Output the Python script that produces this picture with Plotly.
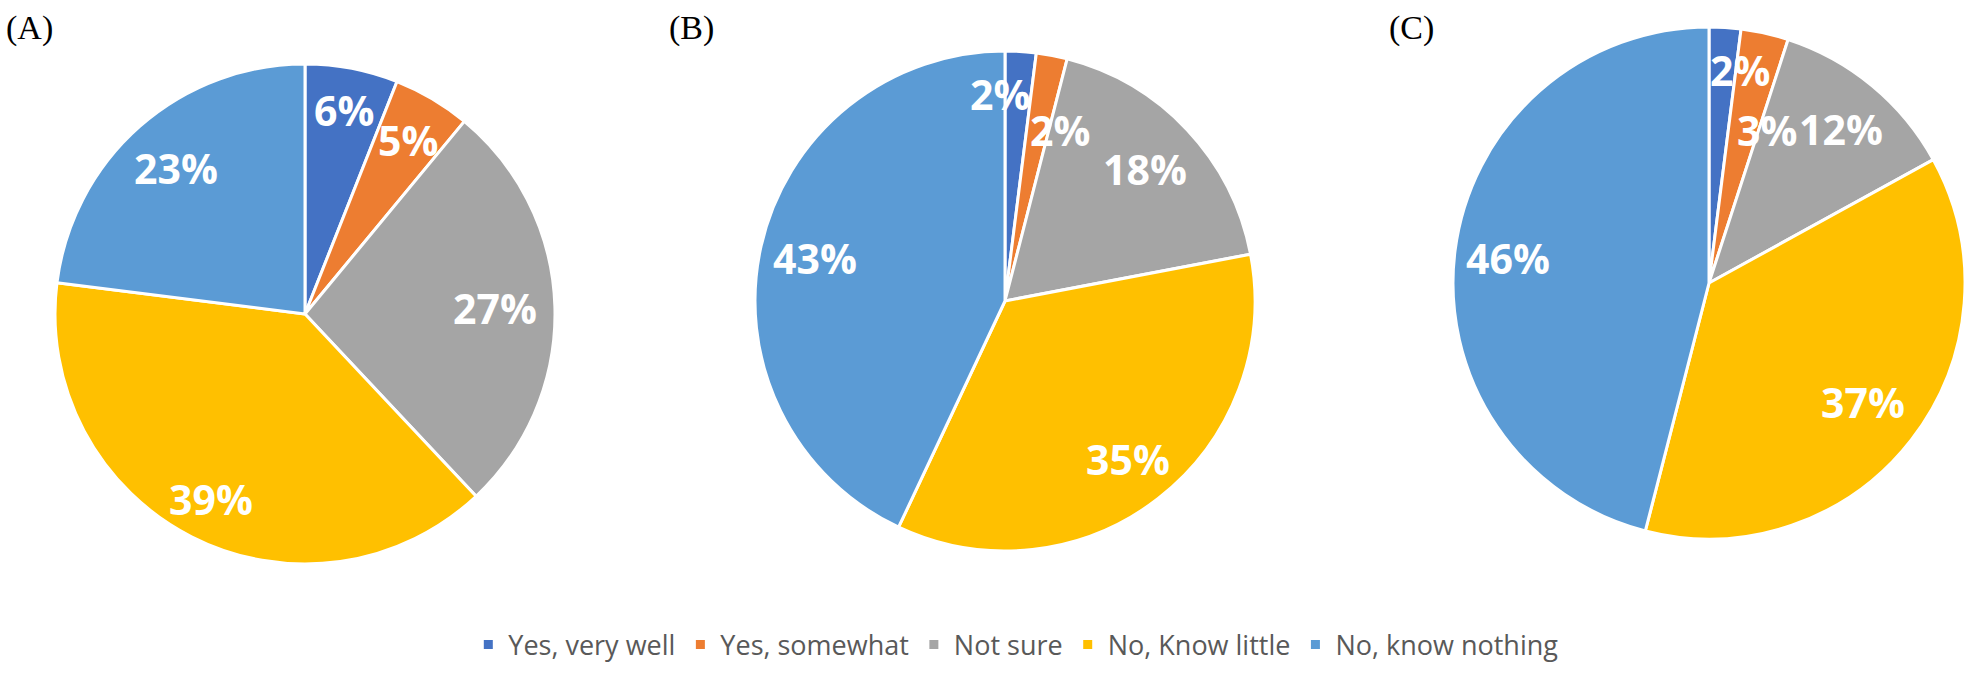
import math
import plotly.graph_objects as go

categories = ["Yes, very well", "Yes, somewhat", "Not sure", "No, Know little", "No, know nothing"]
values_a = [6, 5, 27, 39, 23]
values_b = [2, 2, 18, 35, 43]
values_c = [2, 3, 12, 37, 46]
panel_labels = ["(A)", "(B)", "(C)"]
colors = ["#4472C4", "#ED7D31", "#A5A5A5", "#FFC000", "#5B9BD5"]

W, H = 1984, 682

# layout: pie centres / radii in pixels
pies = [
    dict(vals=values_a, cx=305, cy=314, r=250,
         lab_r=[0.83, 0.81, 0.76, 0.83, 0.78], lab_da=[0, 0, 0, 0, 0]),
    dict(vals=values_b, cx=1005, cy=301, r=250,
         lab_r=[0.83, 0.72, 0.77, 0.80, 0.78], lab_da=[-5, 7, 0, 0, 0]),
    dict(vals=values_c, cx=1709, cy=283, r=256,
         lab_r=[0.84, 0.64, 0.79, 0.76, 0.79], lab_da=[4.7, 8, 1, 0, 0]),
]

fig = go.Figure()
for i, p in enumerate(pies):
    cx, cy, r = p["cx"], p["cy"], p["r"]
    fig.add_trace(go.Pie(
        labels=categories,
        values=p["vals"],
        sort=False,
        direction="clockwise",
        rotation=0,
        marker=dict(colors=colors, line=dict(color="white", width=3)),
        textinfo="none",
        hoverinfo="label+percent",
        domain=dict(x=[(cx - r) / W, (cx + r) / W], y=[1 - (cy + r) / H, 1 - (cy - r) / H]),
        showlegend=(i == 0),
    ))
    # data labels placed along each slice's mid-angle
    total = sum(p["vals"])
    cum = 0
    for v, fr, da in zip(p["vals"], p["lab_r"], p["lab_da"]):
        mid = (cum + v / 2) / total * 360 + da
        cum += v
        th = math.radians(mid)
        d = fr * r
        fig.add_annotation(
            text=f"{v}%", x=(cx + d * math.sin(th)) / W, y=1 - (cy - d * math.cos(th)) / H,
            xref="paper", yref="paper", xanchor="center", yanchor="middle", showarrow=False,
            font=dict(family="Open Sans", size=41, color="white", weight="bold"),
        )

label_x = [29, 691, 1411]
for lab, lx in zip(panel_labels, label_x):
    fig.add_annotation(
        text=lab, x=lx / W, y=1 - 28 / H, xref="paper", yref="paper",
        xanchor="center", yanchor="middle", showarrow=False,
        font=dict(family="Liberation Serif", size=34, color="black"),
    )

fig.update_layout(
    width=W, height=H,
    margin=dict(l=0, r=0, t=0, b=0),
    paper_bgcolor="white",
    plot_bgcolor="white",
    legend=dict(
        orientation="h", x=0.512, xanchor="center", y=1 - 645 / H, yanchor="middle",
        font=dict(family="Open Sans", size=27, color="#595959"),
        traceorder="normal", itemwidth=30,
    ),
)

fig.write_html("out.html")
